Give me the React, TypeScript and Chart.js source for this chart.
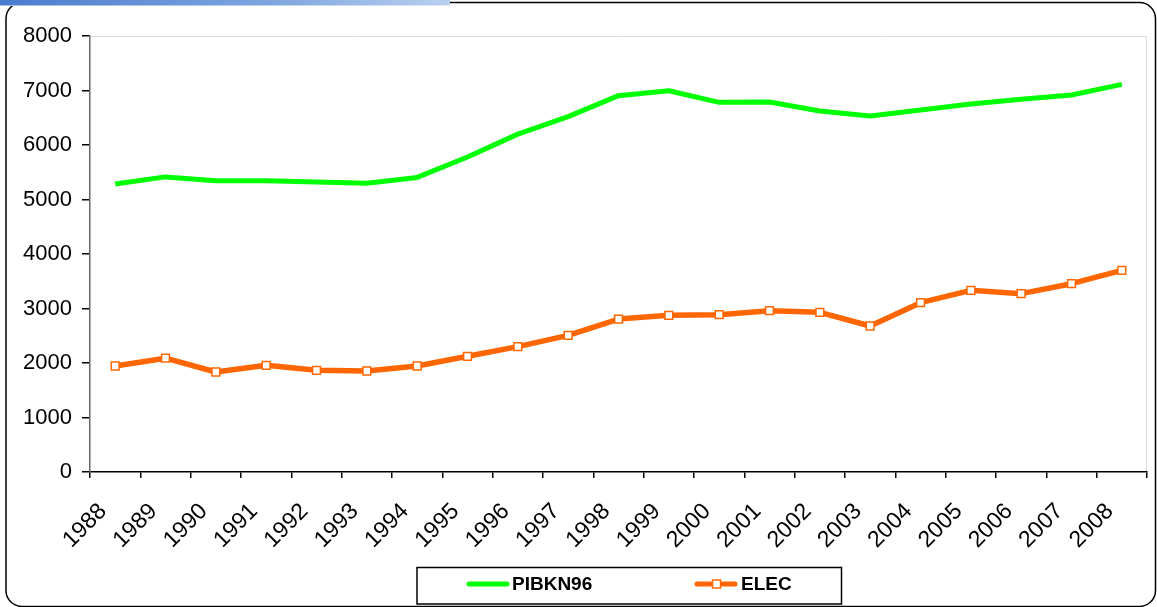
import React, { useEffect, useRef } from "react";
import { Chart, registerables } from "chart.js";

Chart.register(...registerables);

const years = [
  "1988", "1989", "1990", "1991", "1992", "1993", "1994", "1995", "1996", "1997", "1998",
  "1999", "2000", "2001", "2002", "2003", "2004", "2005", "2006", "2007", "2008",
];

const pibkn96 = [
  5284, 5415, 5346, 5346, 5321, 5297, 5405, 5780, 6200, 6520, 6905,
  6996, 6783, 6790, 6624, 6532, 6642, 6752, 6840, 6917, 7113,
];

const elec = [
  1945, 2088, 1835, 1957, 1865, 1853, 1945, 2123, 2300, 2508, 2807,
  2875, 2886, 2960, 2930, 2679, 3107, 3334, 3272, 3455, 3700,
];

const yTicks = [0, 1000, 2000, 3000, 4000, 5000, 6000, 7000, 8000];

const GREEN = "#00ff00";
const ORANGE = "#ff6600";
const FONT = "'Liberation Sans', Arial, sans-serif";

// Page frame, header strip and plot-area edges drawn behind the chart
const framePlugin = {
  id: "frame",
  beforeDraw(chart: any) {
    const { ctx, width, height, chartArea } = chart;
    ctx.save();
    ctx.fillStyle = "#ffffff";
    ctx.fillRect(0, 0, width, height);

    ctx.strokeStyle = "#000";
    ctx.lineWidth = 1.5;
    ctx.beginPath();
    ctx.roundRect(6, 2.5, width - 7.5, height - 3, 16);
    ctx.stroke();

    const g = ctx.createLinearGradient(0, 0, 450, 0);
    g.addColorStop(0, "#4a7cce");
    g.addColorStop(0.6, "#7ea5df");
    g.addColorStop(1, "#b9d0ef");
    ctx.fillStyle = g;
    ctx.fillRect(0, 0, 450, 6);
    ctx.fillStyle = "rgba(255,255,255,0.5)";
    ctx.fillRect(0, 5, 450, 1);

    ctx.strokeStyle = "#dcdcdc";
    ctx.lineWidth = 1;
    ctx.beginPath();
    ctx.moveTo(chartArea.left, chartArea.top + 0.5);
    ctx.lineTo(chartArea.right - 0.5, chartArea.top + 0.5);
    ctx.lineTo(chartArea.right - 0.5, chartArea.bottom);
    ctx.stroke();
    ctx.restore();
  },
};

// Boxed legend under the axis
const legendPlugin = {
  id: "boxLegend",
  afterDraw(chart: any) {
    const { ctx } = chart;
    const ds = chart.data.datasets;
    ctx.save();
    ctx.strokeStyle = "#000";
    ctx.lineWidth = 1.5;
    ctx.strokeRect(417, 567.5, 424.5, 36.5);

    const y = 584;
    ctx.lineCap = "round";
    ctx.lineWidth = 5;
    ctx.strokeStyle = ds[0].borderColor;
    ctx.beginPath();
    ctx.moveTo(469, y);
    ctx.lineTo(507, y);
    ctx.stroke();

    ctx.strokeStyle = ds[1].borderColor;
    ctx.beginPath();
    ctx.moveTo(697, y);
    ctx.lineTo(735, y);
    ctx.stroke();
    ctx.lineWidth = 1.5;
    ctx.fillStyle = "#fff";
    ctx.fillRect(712.5, y - 4, 8, 8);
    ctx.strokeRect(712.5, y - 4, 8, 8);

    ctx.fillStyle = "#000";
    ctx.font = `bold 19px ${FONT}`;
    ctx.textBaseline = "middle";
    ctx.textAlign = "left";
    ctx.fillText(ds[0].label, 512, y + 1);
    ctx.fillText(ds[1].label, 741, y + 1);
    ctx.restore();
  },
};

export default function App() {
  const canvasRef = useRef<HTMLCanvasElement | null>(null);

  useEffect(() => {
    if (!canvasRef.current) return;
    const chart = new Chart(canvasRef.current, {
      type: "line",
      data: {
        labels: years,
        datasets: [
          {
            label: "PIBKN96",
            data: pibkn96,
            borderColor: GREEN,
            backgroundColor: GREEN,
            borderWidth: 5,
            pointRadius: 0,
            tension: 0,
            borderJoinStyle: "round",
          },
          {
            label: "ELEC",
            data: elec,
            borderColor: ORANGE,
            backgroundColor: "#fff",
            borderWidth: 5.5,
            pointStyle: "rect",
            pointRadius: 5.5,
            pointBorderWidth: 1.5,
            pointBackgroundColor: "#fff",
            pointBorderColor: ORANGE,
            tension: 0,
            borderJoinStyle: "round",
          },
        ],
      },
      options: {
        responsive: false,
        animation: false,
        layout: { padding: { left: 0, top: 36, right: 10, bottom: 0 } },
        plugins: {
          legend: { display: false },
          tooltip: { enabled: false },
        },
        scales: {
          x: {
            type: "category",
            offset: true,
            grid: {
              offset: true,
              drawOnChartArea: false,
              tickLength: 6,
              color: "#000",
              lineWidth: 1.5,
            },
            border: { color: "#000", width: 1.5 },
            ticks: {
              autoSkip: false,
              minRotation: 45,
              maxRotation: 45,
              padding: 20,
              labelOffset: -12,
              color: "#000",
              font: { family: FONT, size: 23 },
            },
            afterFit(scale: any) {
              scale.height = 135;
              scale.paddingLeft = 0;
              scale.paddingRight = 0;
            },
          },
          y: {
            min: 0,
            max: 8000,
            afterBuildTicks(scale: any) {
              scale.ticks = yTicks.map((v) => ({ value: v }));
            },
            grid: {
              drawOnChartArea: false,
              tickLength: 8,
              color: "#000",
              lineWidth: 1.5,
            },
            border: { color: "#666", width: 1.5 },
            ticks: {
              padding: 10,
              color: "#000",
              font: { family: FONT, size: 22 },
              callback: (v: any) => String(v),
            },
            afterFit(scale: any) {
              scale.width = 90;
              scale.paddingTop = 0;
              scale.paddingBottom = 0;
            },
          },
        },
      },
      plugins: [framePlugin, legendPlugin],
    });
    return () => chart.destroy();
  }, []);

  return (
    <div style={{ position: "fixed", left: 0, top: 0, width: 1157, height: 607 }}>
      <canvas ref={canvasRef} width={1157} height={607} />
    </div>
  );
}
